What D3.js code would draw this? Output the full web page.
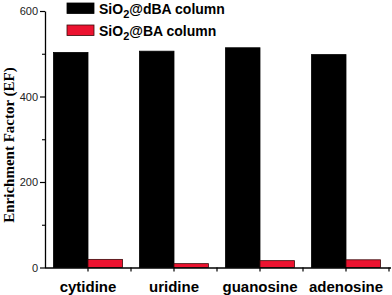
<!DOCTYPE html>
<html>
<head>
<meta charset="utf-8">
<script src="https://cdn.jsdelivr.net/npm/d3@7"></script>
<style>
  body { margin: 0; background: #fff; }
  svg { display: block; }
</style>
</head>
<body>
<div id="chart"></div>
<script>
// 数据
const categories = ['cytidine', 'uridine', 'guanosine', 'adenosine'];
const seriesNames = ['dBA', 'BA'];
const dbaValues = [503, 506, 514, 498];
const baValues = [19, 9, 16, 18];
const yTicks = [0, 200, 400, 600];
const yMinorTicks = [100, 300, 500];

const width = 392, height = 295;
const margin = { top: 11, right: 3, bottom: 27.5, left: 45 };

const svg = d3.select('#chart').append('svg')
    .attr('width', width)
    .attr('height', height);

// 比例尺
const x = d3.scaleBand()
    .domain(categories)
    .range([margin.left, 389])
    .padding(0);

const groupHalf = 34.5;
const xInner = d3.scaleBand()
    .domain(seriesNames)
    .range([x.bandwidth() / 2 - groupHalf, x.bandwidth() / 2 + groupHalf])
    .padding(0);

const y = d3.scaleLinear()
    .domain([0, 600])
    .range([height - margin.bottom, margin.top]);

const colors = { dBA: '#000000', BA: '#ec1330' };

// 柱子
const rows = categories.map((c, i) => ({ c, dBA: dbaValues[i], BA: baValues[i] }));
const groups = svg.append('g').selectAll('g')
    .data(rows)
    .enter()
    .append('g')
    .attr('transform', d => `translate(${x(d.c)},0)`);

groups.selectAll('rect')
    .data(d => seriesNames.map(k => ({ k, v: d[k] })))
    .enter()
    .append('rect')
    .attr('x', d => xInner(d.k))
    .attr('y', d => y(d.v))
    .attr('width', xInner.bandwidth())
    .attr('height', d => y(0) - y(d.v))
    .attr('fill', d => colors[d.k])
    .attr('stroke', d => d.k === 'BA' ? '#3a0a0a' : '#000')
    .attr('stroke-width', 0.8);

// y轴
const yAxis = svg.append('g')
    .attr('transform', `translate(${margin.left},0)`)
    .call(d3.axisLeft(y).tickValues(yTicks).tickSize(5).tickPadding(2).tickSizeOuter(0));
yAxis.select('.domain').attr('stroke-width', 1.3);
yAxis.selectAll('.tick line').attr('stroke-width', 1.2);
yAxis.selectAll('.tick text')
    .attr('font-family', 'Liberation Sans, Arial, sans-serif')
    .attr('font-size', 11)
    .attr('fill', '#222');

svg.append('g')
    .attr('transform', `translate(${margin.left},0)`)
    .call(d3.axisLeft(y).tickValues(yMinorTicks).tickSize(3).tickFormat('').tickSizeOuter(0))
    .call(g => g.select('.domain').remove())
    .selectAll('.tick line').attr('stroke-width', 1.1);

// x轴
const xAxis = svg.append('g')
    .attr('transform', `translate(0,${y(0)})`)
    .call(d3.axisBottom(x).tickSize(0).tickPadding(10).tickSizeOuter(0));
xAxis.select('.domain').attr('d', `M${margin.left},0.5H391`).attr('stroke-width', 1.3);
xAxis.selectAll('.tick text')
    .attr('font-family', 'Liberation Sans, Arial, sans-serif')
    .attr('font-size', 15)
    .attr('font-weight', 'bold')
    .attr('fill', '#000')
    .attr('dy', '0.95em');

// x轴刻度：类别中心与分界
const xTickPos = [];
categories.forEach((c, i) => {
    xTickPos.push(x(c) + x.bandwidth() / 2);
    if (i > 0) xTickPos.push(x(c));
});
xTickPos.push(x(categories[categories.length - 1]) + x.bandwidth());
svg.append('g').selectAll('line')
    .data(xTickPos)
    .enter()
    .append('line')
    .attr('x1', d => d).attr('x2', d => d)
    .attr('y1', y(0)).attr('y2', y(0) + 4)
    .attr('stroke', '#000')
    .attr('stroke-width', 1.2);

// y轴标题
svg.append('text')
    .attr('transform', `translate(14,145) rotate(-90)`)
    .attr('text-anchor', 'middle')
    .attr('font-family', 'Liberation Serif, Times New Roman, serif')
    .attr('font-weight', 'bold')
    .attr('font-size', 15)
    .text('Enrichment Factor (EF)');

// 图例
const legendItems = [
    { k: 'dBA', label: '@dBA column', y: 3 },
    { k: 'BA', label: '@BA column', y: 25 }
];
const legend = svg.append('g');
legendItems.forEach(item => {
    legend.append('rect')
        .attr('x', 67).attr('y', item.y)
        .attr('width', 27).attr('height', 10.5)
        .attr('fill', colors[item.k])
        .attr('stroke', item.k === 'BA' ? '#3a0a0a' : '#000')
        .attr('stroke-width', 0.8);
    const t = legend.append('text')
        .attr('x', 99).attr('y', item.y + 11)
        .attr('font-family', 'Liberation Sans, Arial, sans-serif')
        .attr('font-weight', 'bold')
        .attr('font-size', 14);
    t.append('tspan').text('SiO');
    t.append('tspan').attr('dy', 4).attr('font-size', 11).text('2');
    t.append('tspan').attr('dy', -4).text(item.label);
});
</script>
</body>
</html>
